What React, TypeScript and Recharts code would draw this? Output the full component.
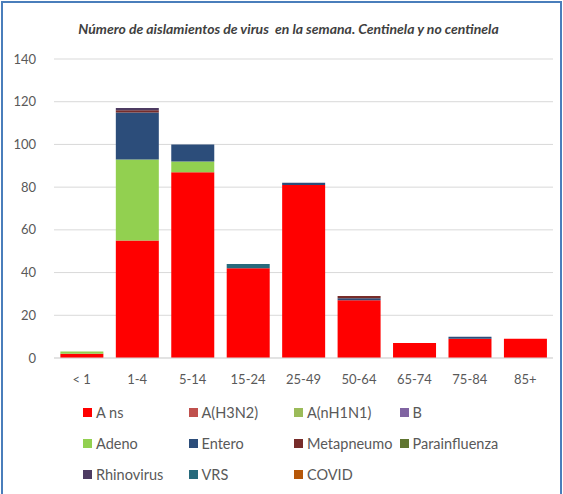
import React from "react";
import { BarChart, Bar, XAxis, YAxis, CartesianGrid, Legend } from "recharts";

const categories = ["< 1", "1-4", "5-14", "15-24", "25-49", "50-64", "65-74", "75-84", "85+"];
const seriesNames = ["A ns", "A(H3N2)", "A(nH1N1)", "B", "Adeno", "Entero", "Metapneumo", "Parainfluenza", "Rhinovirus", "VRS", "COVID"];
const seriesColors = ["#FF0000", "#C0504D", "#9BBB59", "#8064A2", "#92D050", "#2C4D7A", "#772C2A", "#5F7530", "#4D3B62", "#276A7C", "#B65708"];

const aNs = [2, 55, 87, 42, 81, 27, 7, 9, 9];
const aH3N2 = [0, 0, 0, 0, 0, 0, 0, 0, 0];
const aH1N1 = [0, 0, 0, 0, 0, 0, 0, 0, 0];
const bVals = [0, 0, 0, 0, 0, 0, 0, 0, 0];
const adeno = [1, 38, 5, 0, 0, 0, 0, 0, 0];
const entero = [0, 22, 8, 0, 1, 1, 0, 1, 0];
const metapneumo = [0, 1, 0, 0, 0, 1, 0, 0, 0];
const parainfluenza = [0, 0, 0, 0, 0, 0, 0, 0, 0];
const rhinovirus = [0, 1, 0, 0, 0, 0, 0, 0, 0];
const vrs = [0, 0, 0, 2, 0, 0, 0, 0, 0];
const covid = [0, 0, 0, 0, 0, 0, 0, 0, 0];
const yTicks = [0, 20, 40, 60, 80, 100, 120, 140];

const allSeries = [aNs, aH3N2, aH1N1, bVals, adeno, entero, metapneumo, parainfluenza, rhinovirus, vrs, covid];

const data = categories.map((c, i) => {
  const row: Record<string, string | number> = { name: c };
  seriesNames.forEach((s, j) => {
    row[s] = allSeries[j][i];
  });
  return row;
});

const FONT = "Lato, 'Open Sans', sans-serif";

const LegendContent = () => (
  <div
    style={{
      height: 106,
      boxSizing: "border-box",
      paddingTop: 9,
      paddingLeft: 83,
      display: "grid",
      gridTemplateColumns: "105.5px 105.5px 105.5px 140px",
      gridAutoRows: "31px",
      fontFamily: FONT,
      fontSize: 14.5,
      color: "#595959",
    }}
  >
    {seriesNames.map((s, i) => (
      <div key={s} style={{ display: "flex", alignItems: "center", whiteSpace: "nowrap" }}>
        <span style={{ display: "inline-block", width: 9, height: 9, background: seriesColors[i], marginRight: 4 }} />
        <span>{s}</span>
      </div>
    ))}
  </div>
);

export default function App() {
  return (
    <div style={{ position: "absolute", left: 0, top: 0, width: 563, height: 494, background: "#fff", overflow: "hidden" }}>
      <div
        style={{
          position: "absolute",
          left: 1,
          top: 1,
          width: 557,
          height: 500,
          borderLeft: "2px solid #4A7EBB",
          borderTop: "2px solid #4A7EBB",
          borderRight: "2px solid #4A7EBB",
        }}
      />
      <div
        style={{
          position: "absolute",
          left: 0,
          top: 20,
          width: 577,
          textAlign: "center",
          fontFamily: FONT,
          fontStyle: "italic",
          fontWeight: 700,
          fontSize: 14,
          color: "#404040",
          whiteSpace: "pre",
        }}
      >
        {"Número de aislamientos de virus  en la semana. Centinela y no centinela"}
      </div>
      <BarChart
        width={563}
        height={494}
        data={data}
        margin={{ top: 59, right: 10, left: 0, bottom: 0 }}
        barCategoryGap="11.5%"
      >
        <CartesianGrid vertical={false} stroke="#D9D9D9" />
        <XAxis
          dataKey="name"
          height={30}
          tickLine={false}
          axisLine={{ stroke: "#D9D9D9" }}
          tick={{ fill: "#595959", fontSize: 13, fontFamily: FONT }}
          tickMargin={11}
        />
        <YAxis
          width={54}
          domain={[0, 140]}
          ticks={yTicks}
          tickLine={false}
          axisLine={false}
          tick={{ fill: "#595959", fontSize: 13, fontFamily: FONT }}
          tickMargin={12}
        />
        <Legend
          verticalAlign="bottom"
          content={<LegendContent />}
          wrapperStyle={{ left: 0, width: 563 }}
        />
        {seriesNames.map((s, i) => (
          <Bar key={s} dataKey={s} stackId="a" fill={seriesColors[i]} isAnimationActive={false} />
        ))}
      </BarChart>
    </div>
  );
}
